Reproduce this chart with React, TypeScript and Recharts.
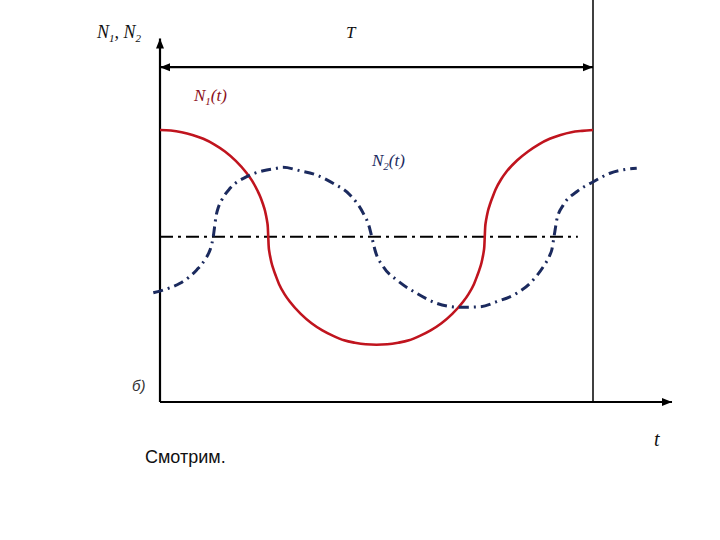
import React from 'react'
import { LineChart, Line, XAxis, YAxis, ReferenceLine } from 'recharts'

// N1(t): solid red curve (t in quarter periods, N relative to the mid line)
const redT = [0, 0.1, 0.2, 0.3, 0.4, 0.5, 0.6, 0.7, 0.8, 0.85, 0.9, 0.93, 0.95, 0.97, 0.98, 0.99, 0.996, 1.0,
  1.004, 1.01, 1.02, 1.03, 1.05, 1.07, 1.1, 1.15, 1.2, 1.3, 1.4, 1.5, 1.6, 1.7, 1.8, 1.9, 2.0,
  2.1, 2.2, 2.3, 2.4, 2.5, 2.6, 2.7, 2.8, 2.85, 2.9, 2.93, 2.95, 2.97, 2.98, 2.99, 2.996, 3.0,
  3.004, 3.01, 3.02, 3.03, 3.05, 3.07, 3.1, 3.15, 3.2, 3.3, 3.4, 3.5, 3.6, 3.7, 3.8, 3.9, 4.0]
const redN = [0.97, 0.965, 0.95, 0.925, 0.89, 0.84, 0.775, 0.69, 0.58, 0.51, 0.42, 0.355, 0.3, 0.236, 0.19, 0.137, 0.087, 0,
  -0.087, -0.137, -0.19, -0.236, -0.3, -0.355, -0.43, -0.52, -0.59, -0.7, -0.785, -0.85, -0.9, -0.94, -0.962, -0.976, -0.98,
  -0.976, -0.962, -0.94, -0.9, -0.85, -0.785, -0.7, -0.59, -0.52, -0.43, -0.355, -0.3, -0.236, -0.19, -0.137, -0.087, 0,
  0.087, 0.137, 0.19, 0.236, 0.3, 0.355, 0.43, 0.52, 0.59, 0.695, 0.775, 0.84, 0.89, 0.925, 0.95, 0.962, 0.97]

// N2(t): dash-dot blue curve
const blueT = [-0.062, 0.03, 0.185, 0.339, 0.42, 0.462, 0.48, 0.492, 0.503, 0.517, 0.54, 0.57, 0.647, 0.801, 0.954, 1.078, 1.136, 1.293, 1.448, 1.598, 1.755, 1.878, 1.93, 1.956,
  1.972, 1.986, 2.063, 2.187, 2.371, 2.556, 2.771, 2.956, 3.11, 3.295, 3.418, 3.541, 3.6, 3.619, 3.64, 3.652, 3.665, 3.726, 3.849, 4.003, 4.157, 4.311, 4.404]
const blueN = [-0.508, -0.483, -0.422, -0.301, -0.2, -0.12, -0.06, 0.001, 0.08, 0.182, 0.27, 0.334, 0.44, 0.546, 0.6, 0.622, 0.631, 0.6, 0.561, 0.486, 0.38, 0.213, 0.1, 0.001,
  -0.065, -0.12, -0.272, -0.392, -0.513, -0.604, -0.64, -0.635, -0.589, -0.513, -0.422, -0.271, -0.17, -0.12, 0.001, 0.075, 0.153, 0.289, 0.409, 0.5, 0.577, 0.613, 0.622]

const redData = redT.map((t, i) => ({ t, n: redN[i] }))
const blueData = blueT.map((t, i) => ({ t, n: blueN[i] }))

const X_DOMAIN: [number, number] = [-0.25, 4.75]
const Y_DOMAIN: [number, number] = [-1.5, 2.15]
const PERIOD = 4
const AXIS_Y = -1.5
const AXIS_TOP = 1.8
const AXIS_RIGHT = 4.73
const T_LEVEL = 1.54
const MID_END = 3.86

const RED = '#C0141E'
const BLUE = '#1B2A5E'

const arrowLine = (ends: 'end' | 'both') => (p: any) => {
  const { x1, y1, x2, y2 } = p
  const ang = Math.atan2(y2 - y1, x2 - x1)
  const head = (x: number, y: number, a: number) => {
    const L = 10, W = 4
    const bx = x - L * Math.cos(a), by = y - L * Math.sin(a)
    const px = -Math.sin(a) * W, py = Math.cos(a) * W
    return <polygon points={`${x},${y} ${bx + px},${by + py} ${bx - px},${by - py}`} fill="#000" />
  }
  return (
    <g>
      <line x1={x1} y1={y1} x2={x2} y2={y2} stroke="#000" strokeWidth={2.2} />
      {head(x2, y2, ang)}
      {ends === 'both' && head(x1, y1, ang + Math.PI)}
    </g>
  )
}

export default function App() {
  const serif = '"Liberation Serif", "Times New Roman", serif'
  const sans = '"Liberation Sans", Arial, sans-serif'
  return (
    <div style={{ position: 'absolute', left: 0, top: 0, width: 720, height: 540, background: '#fff' }}>
      <LineChart width={720} height={540} margin={{ top: 0, right: 45.81, bottom: 138, left: 132.94 }}>
        <XAxis type="number" dataKey="t" domain={X_DOMAIN} allowDataOverflow hide />
        <YAxis type="number" domain={Y_DOMAIN} allowDataOverflow hide />
        <ReferenceLine segment={[{ x: PERIOD, y: AXIS_Y }, { x: PERIOD, y: Y_DOMAIN[1] }]} stroke="#000" strokeWidth={1.5} />
        <ReferenceLine segment={[{ x: 0, y: 0 }, { x: MID_END, y: 0 }]} stroke="#000" strokeWidth={2} strokeDasharray="13 5 3 5" />
        <ReferenceLine segment={[{ x: 0, y: AXIS_Y }, { x: 0, y: AXIS_TOP }]} shape={arrowLine('end')} />
        <ReferenceLine segment={[{ x: 0, y: AXIS_Y }, { x: AXIS_RIGHT, y: AXIS_Y }]} shape={arrowLine('end')} />
        <ReferenceLine segment={[{ x: 0, y: T_LEVEL }, { x: PERIOD, y: T_LEVEL }]} shape={arrowLine('both')} />
        <Line data={redData} dataKey="n" type="monotone" stroke={RED} strokeWidth={2.6} dot={false} activeDot={false} isAnimationActive={false} />
        <Line data={blueData} dataKey="n" type="monotone" stroke={BLUE} strokeWidth={3} strokeDasharray="10 5 2 5" dot={false} activeDot={false} isAnimationActive={false} />
      </LineChart>
      <svg width={720} height={540} style={{ position: 'absolute', left: 0, top: 0, pointerEvents: 'none' }}>
        <text x={97} y={38} fontFamily={serif} fontStyle="italic" fontSize={18} fill="#111">
          N<tspan fontSize={11} dy={4}>1</tspan><tspan dy={-4}>, N</tspan><tspan fontSize={11} dy={4}>2</tspan>
        </text>
        <text x={346} y={38} fontFamily={serif} fontStyle="italic" fontSize={17} fill="#111">T</text>
        <text x={194} y={101} fontFamily={serif} fontStyle="italic" fontSize={17} fill="#8B1020">
          N<tspan fontSize={11} dy={4}>1</tspan><tspan dy={-4}>(t)</tspan>
        </text>
        <text x={372} y={166} fontFamily={serif} fontStyle="italic" fontSize={17} fill={BLUE}>
          N<tspan fontSize={11} dy={4}>2</tspan><tspan dy={-4}>(t)</tspan>
        </text>
        <text x={132} y={391} fontFamily={sans} fontStyle="italic" fontSize={15} fill="#333">б)</text>
        <text x={654} y={446} fontFamily={serif} fontStyle="italic" fontSize={20} fill="#111">t</text>
        <text x={145} y={463} fontFamily={sans} fontSize={18} fill="#111">Смотрим.</text>
      </svg>
    </div>
  )
}
